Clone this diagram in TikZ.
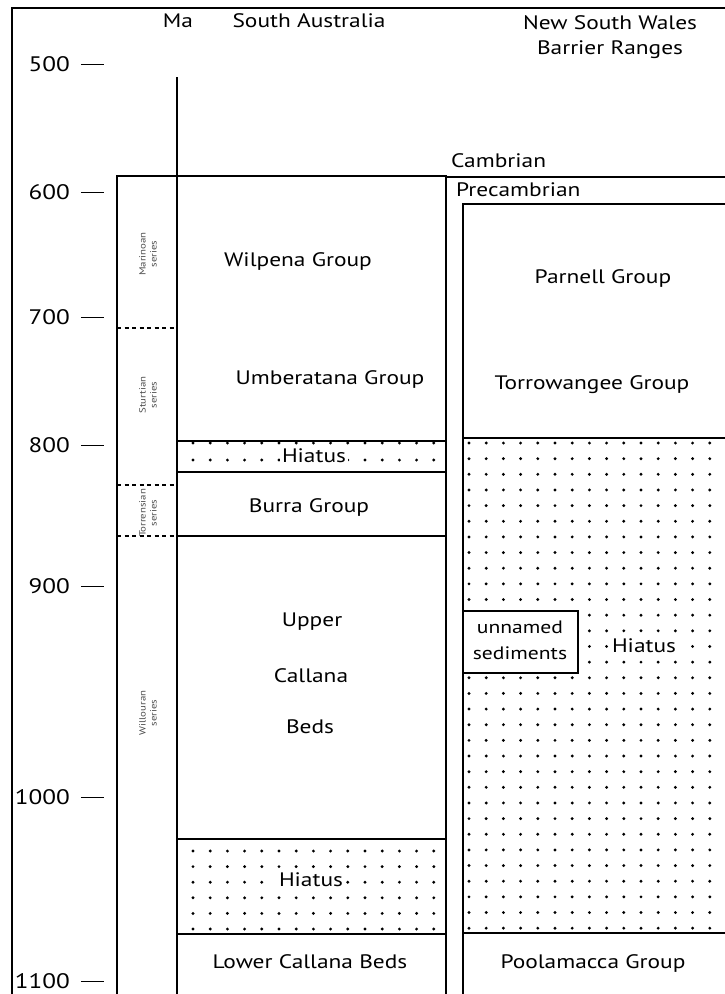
\documentclass[tikz,border=0pt]{standalone}
\usepackage{fontspec}
\setmainfont{PT Sans}[FakeStretch=1.2]
\usepackage{tikz}

\newcommand{\agetick}{\hspace{11pt}\rule[0.3em]{23pt}{1.3pt}}

\begin{document}
\begin{tikzpicture}[x=1pt,y=-1pt,
    unit/.style={font=\fontsize{19.5}{26}\selectfont, inner sep=1pt},
    head/.style={font=\fontsize{19.5}{25}\selectfont, align=center, inner sep=0pt},
    age/.style={font=\fontsize{21}{22}\selectfont, anchor=east, inner sep=0pt},
    series/.style={font=\fontsize{9}{11}\selectfont, rotate=90, align=center, inner sep=0pt, text=black!70},
    box/.style={line width=1.4pt},
    sep/.style={line width=2pt, dash pattern=on 4pt off 3.5pt},
    gap/.style={fill=white, inner sep=2pt}]
    \useasboundingbox (0,0) rectangle (725,994);
    \draw[line width=2pt] (12,994) -- (12,8) -- (725,8);

    \foreach \i in {0,...,14} {
        \fill (193+17.2*\i,443) circle (1.6pt);
        \fill (193+17.2*\i,460) circle (1.6pt);
        \foreach \j in {0,...,5}
            \fill (193+17.2*\i,851+15.6*\j) circle (1.6pt);
        \foreach \j in {0,...,31}
            \fill (469+17.2*\i,443+15.65*\j) circle (1.6pt);
    }

    \draw[box] (117,994) -- (117,176) -- (446,176) -- (446,994);
    \draw[box] (446,177) -- (725,177);
    \draw[box] (177,77) -- (177,994);
    \draw[box] (177,441) -- (446,441);
    \draw[box] (177,472) -- (446,472);
    \draw[box] (177,536) -- (446,536);
    \draw[box] (177,839) -- (446,839);
    \draw[box] (177,934) -- (446,934);
    \draw[box] (463,994) -- (463,204) -- (725,204);
    \draw[box] (463,438) -- (725,438);
    \draw[box] (463,933) -- (725,933);
    \draw[sep] (117,328) -- (177,328);
    \draw[sep] (117,485) -- (177,485);
    \draw[sep] (117,536) -- (177,536);
    \draw[box, fill=white] (463,611) rectangle (578,673);

    \node[age] (a500) at (104,64) {500\agetick};
    \node[age] (a600) at (104,192) {600\agetick};
    \node[age] (a700) at (104,317) {700\agetick};
    \node[age] (a800) at (104,445) {800\agetick};
    \node[age] (a900) at (104,586) {900\agetick};
    \node[age] (a1000) at (104,797) {1000\agetick};
    \node[age] (a1100) at (104,981) {1100\agetick};

    \node[head] (ma) at (178,21) {Ma};
    \node[head] (sa) at (309,21) {South Australia};
    \node[head] (nsw) at (610,37) {New South Wales\\Barrier Ranges};
    \node[head, anchor=west] (cambrian) at (451,161) {Cambrian};
    \node[head, anchor=west] (precambrian) at (456,190) {Precambrian};

    \node[series] (marinoan) at (148,254) {Marinoan\\series};
    \node[series] (sturtian) at (148,395) {Sturtian\\series};
    \node[series] (torrensian) at (148,513) {Torrensian\\series};
    \node[series] (willouran) at (148,713) {Willouran\\series};

    \node[unit] (wilpena) at (298,262) {Wilpena Group};
    \node[unit] (umberatana) at (330,380) {Umberatana Group};
    \node[unit, gap] (hiatusA) at (314,456) {Hiatus};
    \node[unit] (burra) at (309,507) {Burra Group};
    \node[unit] (upper) at (312,622) {Upper};
    \node[unit] (callana) at (311,676) {Callana};
    \node[unit] (beds) at (310,727) {Beds};
    \node[unit, gap] (hiatusB) at (311,880) {Hiatus};
    \node[unit] (lowercallana) at (310,962) {Lower Callana Beds};

    \node[unit] (parnell) at (603,279) {Parnell Group};
    \node[unit] (torrowangee) at (592,385) {Torrowangee Group};
    \node[unit, align=center, font=\fontsize{18}{26}\selectfont] (unnamed) at (520,640) {unnamed\\sediments};
    \node[unit, gap] (hiatusC) at (644,646) {Hiatus};
    \node[unit] (poolamacca) at (593,963) {Poolamacca Group};
\end{tikzpicture}
\end{document}
